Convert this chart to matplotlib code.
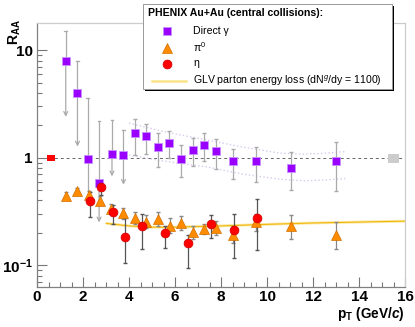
import numpy as np
import matplotlib
matplotlib.use("Agg")
import matplotlib.pyplot as plt
from matplotlib.patches import Rectangle
from matplotlib.lines import Line2D

plt.rcParams["font.family"] = ["Liberation Sans", "DejaVu Sans"]
plt.rcParams["mathtext.fontset"] = "custom"
plt.rcParams["mathtext.rm"] = "Liberation Sans"
plt.rcParams["mathtext.it"] = "Liberation Sans:italic"
plt.rcParams["mathtext.bf"] = "Liberation Sans:bold"
plt.rcParams["mathtext.bfit"] = "Liberation Sans:bold:italic"

# direct photons (points with symmetric-ish bars)
gam_pt = [4.25, 4.75, 5.25, 5.75, 6.26, 6.77, 7.27, 7.77, 8.51, 9.52, 11.03, 13.02]
gam_y = [1.69, 1.60, 1.27, 1.36, 0.98, 1.17, 1.30, 1.15, 0.93, 0.93, 0.81, 0.94]
gam_lo = [1.05, 1.08, 0.82, 1.00, 0.66, 0.84, 0.93, 0.78, 0.64, 0.59, 0.50, 0.49]
gam_hi = [2.27, 2.06, 1.71, 1.78, 1.31, 1.51, 1.69, 1.50, 1.20, 1.27, 1.12, 1.39]

# direct photons at low pT: upper bar + downward arrow
gaml_pt = [1.25, 1.76, 2.21, 2.70, 3.26, 3.76]
gaml_y = [8.0, 4.0, 0.97, 0.585, 1.08, 1.06]
gaml_hi = [15.0, 8.0, 3.6, 2.2, 2.24, 1.81]
gaml_arrow = [2.4, 1.27, 0.43, 0.25, 0.67, 0.56]
gaml_has_arrow = [True, True, False, True, True, True]

# systematic band of direct photons (dotted)
band_pt = [4.0, 5.5, 7.4, 9.0, 10.6, 11.6, 12.5, 13.4]
band_up = [2.10, 1.75, 1.46, 1.25, 1.10, 1.08, 1.10, 1.14]
band_dn = [1.06, 0.93, 0.82, 0.70, 0.63, 0.61, 0.62, 0.64]

# pi0
pi0_pt = [1.25, 1.76, 2.24, 2.75, 3.23, 3.75, 4.26, 4.76, 5.26, 5.77, 6.26, 6.77,
          7.27, 7.77, 8.51, 9.52, 11.03, 13.02]
pi0_y = [0.443, 0.487, 0.453, 0.398, 0.333, 0.304, 0.273, 0.252, 0.267, 0.232, 0.249,
         0.204, 0.219, 0.223, 0.192, 0.254, 0.232, 0.192]
pi0_lo = [0.41, 0.45, 0.42, 0.36, 0.30, 0.27, 0.24, 0.22, 0.23, 0.20, 0.213, 0.177,
          0.195, 0.19, 0.16, 0.21, 0.175, 0.14]
pi0_hi = [0.48, 0.525, 0.49, 0.44, 0.37, 0.34, 0.31, 0.29, 0.31, 0.277, 0.287, 0.232,
          0.24, 0.26, 0.23, 0.30, 0.29, 0.252]

# eta
eta_pt = [2.31, 2.80, 3.30, 3.82, 4.58, 5.57, 6.57, 7.57, 8.57, 9.56]
eta_y = [0.396, 0.531, 0.315, 0.184, 0.233, 0.200, 0.162, 0.242, 0.211, 0.275]
eta_lo = [0.28, 0.45, 0.24, 0.104, 0.14, 0.144, 0.094, 0.178, 0.116, 0.138]
eta_hi = [0.48, 0.62, 0.36, 0.273, 0.30, 0.232, 0.19, 0.293, 0.30, 0.41]

# GLV prediction
glv_pt = [3.0, 4.0, 5.0, 6.0, 7.0, 8.0, 10.0, 12.0, 14.0, 16.0]
glv_y = [0.245, 0.232, 0.226, 0.226, 0.229, 0.232, 0.240, 0.247, 0.252, 0.257]

# normalisation boxes at R_AA = 1
norm_x = [0.6, 15.5]
norm_w = [0.35, 0.5]
norm_lo = [0.94, 0.89]
norm_hi = [1.06, 1.08]
norm_col = ["#ff0000", "#cccccc"]

W, H = 415, 327
fig = plt.figure(figsize=(W / 100, H / 100), dpi=100)
ax = fig.add_axes([37 / W, 1 - 286.7 / H, (405 - 37) / W, (286.7 - 23.3) / H])

purple = "#9900ff"
orange = "#ff8c00"
red = "#ff0000"

ax.axhline(1.0, color="#666666", ls=(0, (3, 3)), lw=0.7, zorder=1)

lo = np.array(norm_lo)
ax.bar(norm_x, np.array(norm_hi) - lo, bottom=lo, width=norm_w, color=norm_col, zorder=3)

ax.plot(band_pt, band_up, ls=":", color="#d8c8f0", lw=1.0, zorder=1)
ax.plot(band_pt, band_dn, ls=":", color="#d8c8f0", lw=1.0, zorder=1)

ax.plot(glv_pt, glv_y, color="#fbe6a0", lw=2.0, zorder=2, solid_capstyle="butt")
ax.plot(glv_pt, glv_y, color="#f0b400", lw=0.7, zorder=2)

# direct photon bars
for x, y, h, a, has in zip(gaml_pt, gaml_y, gaml_hi, gaml_arrow, gaml_has_arrow):
    ax.plot([x, x], [y, h], color="#aaaaaa", lw=0.9, zorder=2)
    ax.plot([x - 0.06, x + 0.06], [h, h], color="#aaaaaa", lw=0.9, zorder=2)
    if has:
        ax.annotate("", xy=(x, a), xytext=(x, y),
                    arrowprops=dict(arrowstyle="->", color="#aaaaaa", lw=0.9,
                                    mutation_scale=7, shrinkA=0, shrinkB=0),
                    zorder=2)
    else:
        ax.plot([x, x], [y, a], color="#aaaaaa", lw=0.9, zorder=2)

gy = np.array(gam_y)
ax.errorbar(gam_pt, gam_y, yerr=[gy - np.array(gam_lo), np.array(gam_hi) - gy],
            fmt="none", ecolor="#aaaaaa", elinewidth=0.9, capsize=1.5, zorder=2)

py = np.array(pi0_y)
ax.errorbar(pi0_pt, pi0_y, yerr=[py - np.array(pi0_lo), np.array(pi0_hi) - py],
            fmt="none", ecolor="#888888", elinewidth=0.9, capsize=1.5, zorder=3)

ey = np.array(eta_y)
ax.errorbar(eta_pt, eta_y, yerr=[ey - np.array(eta_lo), np.array(eta_hi) - ey],
            fmt="none", ecolor="#555555", elinewidth=0.9, capsize=1.5, zorder=3)

ax.plot(gaml_pt + gam_pt, gaml_y + gam_y, "s", color=purple, ms=5.6,
        mec="#c890ff", mew=0.6, zorder=4)
ax.plot(pi0_pt, pi0_y, "^", color=orange, ms=6.8, mec="#d07000", mew=0.5, zorder=4)
ax.plot(eta_pt, eta_y, "o", color=red, ms=6.4, mec="#cc0000", mew=0.5, zorder=5)

ax.set_yscale("log")
ax.set_xlim(0, 16)
ax.set_ylim(0.0631, 17.8)

ax.xaxis.set_major_locator(matplotlib.ticker.MultipleLocator(2))
ax.xaxis.set_minor_locator(matplotlib.ticker.MultipleLocator(0.5))
ax.yaxis.set_major_locator(matplotlib.ticker.FixedLocator([0.1, 1, 10]))
ax.yaxis.set_minor_locator(matplotlib.ticker.LogLocator(base=10, subs=np.arange(2, 10)))
ax.yaxis.set_minor_formatter(matplotlib.ticker.NullFormatter())
ax.set_yticklabels([r"$\mathbf{10^{-1}}$", "1", "10"])

ax.tick_params(which="both", direction="in", colors="#777777", labelcolor="black",
               labelsize=11, top=False, right=False)
ax.tick_params(which="major", length=7, width=0.8)
ax.tick_params(which="minor", length=3.5, width=0.8)
ax.tick_params(axis="x", pad=2.5)
ax.tick_params(axis="y", pad=3)
for lab in ax.get_xticklabels() + ax.get_yticklabels():
    lab.set_fontweight("bold")

for side in ["left", "bottom"]:
    ax.spines[side].set_color("#808080")
    ax.spines[side].set_linewidth(0.9)
for side in ["top", "right"]:
    ax.spines[side].set_color("#cccccc")
    ax.spines[side].set_linewidth(0.9)

fig.text(15 / W, 1 - 19 / H, r"$\mathbf{R_{AA}}$", rotation=90, ha="center", va="top",
         fontsize=10)
fig.text(405 / W, 1 - 314 / H, r"$\mathbf{p_T}$ (GeV/$\mathbfit{c}$)", ha="right",
         va="center", fontsize=9.8, fontweight="bold")

# legend box with shadow
def fx(p):
    return p / W


def fy(p):
    return 1 - p / H


fig.add_artist(Rectangle((fx(145), fy(91)), fx(394) - fx(145), fy(6) - fy(91),
                         transform=fig.transFigure, facecolor="black", edgecolor="none",
                         zorder=10))
fig.add_artist(Rectangle((fx(143), fy(89)), fx(392) - fx(143), fy(4) - fy(89),
                         transform=fig.transFigure, facecolor="white", edgecolor="#999999",
                         lw=0.7, zorder=11))

fig.text(fx(148), fy(13.5), "PHENIX Au+Au (central collisions):", fontsize=7.6,
         fontweight="bold", va="center", ha="left", zorder=12)
rows = [31, 47.5, 63.5, 80.5]
labels = ["Direct γ", r"$\mathrm{\pi^0}$", "η",
          r"GLV parton energy loss (dN$^g$/dy = 1100)"]
for r, lab in zip(rows, labels):
    fig.text(fx(193), fy(r), lab, fontsize=7.6, va="center", ha="left", zorder=12)

fig.add_artist(Line2D([fx(166.7)], [fy(31)], marker="s", color=purple, ms=5.4,
                      mec="#c890ff", mew=0.6, transform=fig.transFigure, zorder=12))
fig.add_artist(Line2D([fx(166.7)], [fy(47.5)], marker="^", color=orange, ms=6.8,
                      mec="#d07000", mew=0.5, transform=fig.transFigure, zorder=12))
fig.add_artist(Line2D([fx(166.7)], [fy(63.5)], marker="o", color=red, ms=6.4,
                      mec="#cc0000", mew=0.5, transform=fig.transFigure, zorder=12))
fig.add_artist(Line2D([fx(151.7), fx(186)], [fy(80.5), fy(80.5)], color="#fce38a", lw=1.8,
                      transform=fig.transFigure, zorder=12))

fig.savefig("out.png", dpi=100)
